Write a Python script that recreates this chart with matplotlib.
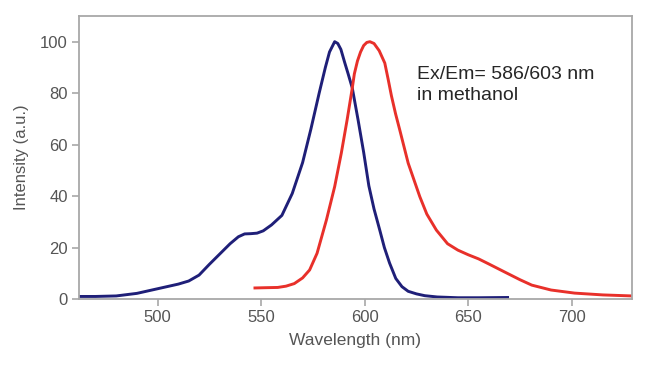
import matplotlib
matplotlib.use("Agg")
import matplotlib.pyplot as plt

plt.rcParams["font.family"] = ["Liberation Sans", "DejaVu Sans"]

# excitation spectrum (blue)
ex_wl = [462, 470, 480, 490, 500, 510, 515, 520, 525, 530, 535, 539, 542, 545, 548,
         551, 555, 560, 565, 570, 574, 578, 581, 583, 585.5, 587, 588.5, 590.3, 592,
         594, 596.8, 599.5, 602, 604.5, 607.2, 609.5, 612, 615, 618, 621, 625, 629,
         635, 645, 655, 669]
ex_int = [1.0, 1.0, 1.2, 2.2, 4.0, 5.8, 7.0, 9.3, 13.5, 17.5, 21.5, 24.2, 25.3, 25.4, 25.6,
          26.5, 28.8, 32.5, 41, 53, 66, 80, 90, 96, 100, 99.3, 97, 92, 87.5,
          82, 69.6, 57, 44, 35, 27, 20, 14, 8, 4.8, 3.0, 2.0, 1.3,
          0.8, 0.5, 0.5, 0.6]

# emission spectrum (red)
em_wl = [547, 552, 558, 562, 566, 570, 573.4, 577, 581.5, 585.5, 588.7, 591.5, 594,
         595, 596.5, 598, 599.5, 601, 602.5, 604.5, 607, 609.7, 611.3, 612.9, 614.9,
         616.9, 621, 626.6, 630, 634.6, 640, 645, 650, 655, 660, 667.6, 675, 680.7,
         690, 701.4, 715, 729]
em_int = [4.3, 4.4, 4.5, 5.0, 6.0, 8.2, 11.3, 17.8, 30.7, 43.7, 56.7, 69.6, 82,
          87.5, 92.5, 96, 98.5, 99.7, 100, 99.3, 96.5, 91.7, 85.5, 79, 72,
          65.8, 52.8, 39.8, 33, 26.8, 21.5, 19, 17.2, 15.6, 13.6, 10.5, 7.5, 5.4,
          3.5, 2.3, 1.6, 1.2]

x_ticks = [500, 550, 600, 650, 700]
y_ticks = [0, 20, 40, 60, 80, 100]

fig = plt.figure(figsize=(6.5, 3.71), dpi=100)
ax = fig.add_axes([0.1215, 0.194, 0.8505, 0.763])

ax.plot(ex_wl, ex_int, color="#1f1f78", lw=2.1)
ax.plot(em_wl, em_int, color="#e8302a", lw=2.1)

ax.set_xlim(462, 729)
ax.set_ylim(0, 110)
ax.set_xticks(x_ticks)
ax.set_yticks(y_ticks)

for s in ax.spines.values():
    s.set_color("#a8a8a8")
    s.set_linewidth(1.3)
ax.tick_params(direction="out", length=5, width=1.2, color="#a8a8a8",
               labelsize=12, labelcolor="#555555", pad=3)

ax.set_xlabel("Wavelength (nm)", fontsize=12.5, color="#555555", labelpad=6)
ax.set_ylabel("Intensity (a.u.)", fontsize=12, color="#555555", labelpad=8)

ax.text(0.611, 0.823, "Ex/Em= 586/603 nm\nin methanol", transform=ax.transAxes,
        fontsize=14, color="#262626", va="top", ha="left", linespacing=1.3)

fig.savefig("out.png", dpi=100)
